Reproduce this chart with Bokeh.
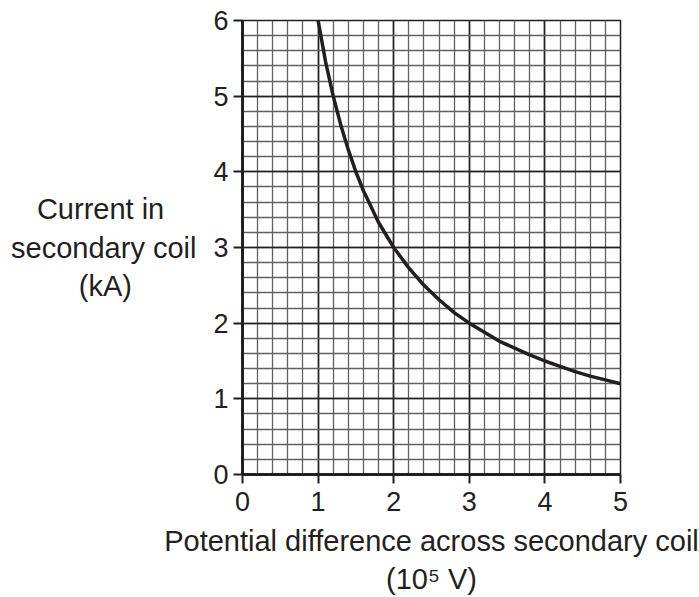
from bokeh.plotting import figure
from bokeh.models import Range1d, SingleIntervalTicker
from bokeh.embed import file_html
from bokeh.resources import INLINE

# Data
voltage = [1.0, 1.1, 1.2, 1.3, 1.4, 1.5, 1.6, 1.8, 2.0, 2.2, 2.4, 2.6, 2.8,
           3.0, 3.2, 3.4, 3.6, 3.8, 4.0, 4.2, 4.4, 4.6, 4.8, 5.0]
current = [6.0, 5.45, 5.0, 4.62, 4.29, 4.0, 3.75, 3.33, 3.0, 2.73, 2.5, 2.31, 2.14,
           2.0, 1.88, 1.76, 1.67, 1.58, 1.5, 1.43, 1.36, 1.30, 1.25, 1.2]

y_title_lines = ["Current in", "secondary coil", "(kA)"]
x_title_lines = ["Potential difference across secondary coil", "(10\u2075 V)"]

INK = "#231f20"
FONT = "Liberation Sans"
NBSP = "\u00a0"
# trailing padding so the right-aligned lines appear centred
y_title_pad = [4, 0, 8]

p = figure(width=699, height=597, output_backend="svg", toolbar_location=None,
           x_range=Range1d(0, 5), y_range=Range1d(0, 6),
           min_border_left=242, min_border_right=79,
           min_border_top=20, min_border_bottom=123)
p.background_fill_color = "white"
p.border_fill_color = "white"
p.outline_line_color = INK
p.outline_line_width = 1.5

for ax in (p.xaxis[0], p.yaxis[0]):
    ax.ticker = SingleIntervalTicker(interval=1, num_minor_ticks=5)
    ax.axis_line_color = INK
    ax.axis_line_width = 3
    ax.major_tick_line_color = INK
    ax.major_tick_line_width = 2
    ax.major_tick_out = 9
    ax.major_tick_in = 0
    ax.minor_tick_out = 0
    ax.minor_tick_in = 0
    ax.major_label_text_font = FONT
    ax.major_label_text_font_size = "27px"
    ax.major_label_text_color = INK
    ax.major_label_standoff = 5
    ax.axis_label_text_font = FONT
    ax.axis_label_text_font_size = "29px"
    ax.axis_label_text_font_style = "normal"
    ax.axis_label_text_color = INK

p.xaxis[0].major_label_standoff = 8
p.xaxis[0].axis_label = "\n".join(x_title_lines)
p.xaxis[0].axis_label_standoff = 11
p.yaxis[0].axis_label = "\n".join(t + NBSP * n for t, n in zip(y_title_lines, y_title_pad))
p.yaxis[0].axis_label_orientation = "horizontal"
p.yaxis[0].axis_label_standoff = 14

for g in (p.xgrid[0], p.ygrid[0]):
    g.grid_line_color = INK
    g.grid_line_width = 1.6
    g.minor_grid_line_color = "#5f5f5f"
    g.minor_grid_line_width = 1.3

p.line(voltage, current, line_color=INK, line_width=3.5)

open("out.html", "w").write(file_html(p, INLINE))
